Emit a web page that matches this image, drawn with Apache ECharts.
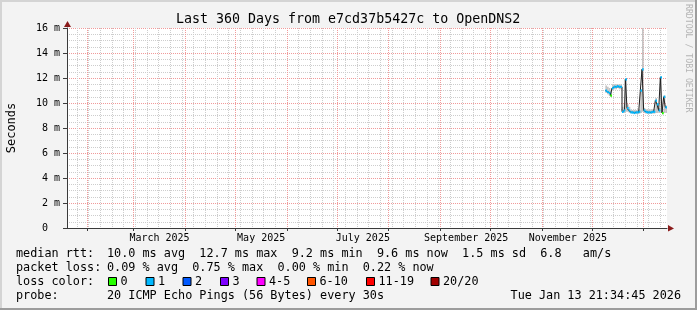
<!DOCTYPE html>
<html>
<head>
<meta charset="utf-8">
<script src="https://cdn.jsdelivr.net/npm/echarts@6/dist/echarts.min.js"></script>
<style>
html,body{margin:0;padding:0;background:#f3f3f3;}
#c{width:697px;height:310px;}
</style>
</head>
<body>
<div id="c"></div>
<script>
// ---------------- data ----------------
const titleText = 'Last 360 Days from e7cd37b5427c to OpenDNS2';
const axisFirstDay = '2025-01-20';           // first day shown on the x axis
const dayCount = 360;
const monthLabels    = ['March 2025', 'May 2025', 'July 2025', 'September 2025', 'November 2025'];
const monthLabelDays = ['2025-03-16', '2025-05-16', '2025-07-16', '2025-09-16', '2025-11-16'];
const yMax = 16;
const yStep = 2;

const dataFirstDay = '2025-12-09';           // first day with measurements
// median rtt per day (ms)
const medianRtt = [
  11.0, 10.9, 10.8, 10.6, 11.2, 11.3, 11.3, 11.35, 11.3, 11.3,
  9.3, 9.4, 11.9, 9.6, 9.4,
  9.25, 9.25, 9.2, 9.25, 9.25, 9.3,
  11.0, 12.7,
  9.4, 9.3, 9.25, 9.25, 9.25, 9.3, 9.3,
  10.2, 9.9, 9.4, 12.05, 9.2, 10.5, 9.65
];
// loss colour level per day (index into lossColors)
const lossLevel = [
  1, 1, 1, 0, 1, 1, 1, 1, 1, 1,
  1, 1, 1, 1, 1,
  1, 1, 1, 1, 1, 1,
  1, 1,
  1, 1, 1, 1, 1, 1, 1,
  1, 1, 1, 1, 0, 1, 1
];
// smoke (ping spread) per day (ms)
const smokeLow = [
  10.8, 10.7, 10.6, 10.5, 11.0, 11.1, 11.1, 11.2, 11.1, 11.1,
  9.2, 9.2, 9.3, 9.3, 9.2,
  9.2, 9.15, 9.15, 9.15, 9.15, 9.15,
  9.2, 9.3,
  9.2, 9.15, 9.15, 9.15, 9.15, 9.15, 9.15,
  9.2, 9.2, 9.2, 9.3, 9.1, 9.2, 9.2
];
const smokeHigh = [
  11.4, 11.3, 11.2, 11.0, 11.5, 11.5, 11.5, 11.5, 11.5, 11.5,
  9.7, 9.9, 12.0, 9.9, 9.7,
  9.45, 9.45, 9.45, 9.45, 9.45, 9.45,
  11.1, 16.0,
  9.6, 9.5, 9.5, 9.5, 9.5, 9.5, 9.5,
  10.4, 10.0, 9.6, 12.1, 9.4, 10.6, 9.8
];

const lossLabels = ['0', '1', '2', '3', '4-5', '6-10', '11-19', '20/20'];
const lossColors = ['#26ff00', '#00b8ff', '#0059ff', '#7e00ff', '#ff00ff', '#ff5500', '#ff0000', '#a10000'];

const statHeads = ['median rtt:', 'packet loss:', 'loss color:', 'probe:'];
const statBodies = [
  '10.0 ms avg  12.7 ms max  9.2 ms min  9.6 ms now  1.5 ms sd  6.8   am/s',
  '0.09 % avg  0.75 % max  0.00 % min  0.22 % now',
  '',
  '20 ICMP Echo Pings (56 Bytes) every 30s'
];
const stampText = 'Tue Jan 13 21:34:45 2026';
const watermark = 'RRDTOOL / TOBI OETIKER';

// ---------------- layout / style ----------------
const MONO = '"DejaVu Sans Mono", monospace';
const PLOT = {left: 67, top: 28, width: 600, height: 200};
const AXIS = '#3a3a3a';
const ARROW = '#8b1c1c';
const MGRID = '#f19a9a';
const GRID = '#cdcdcd';
const LOSS_HALF = 0.09;
const LEG_FONT = '11.8px ' + MONO;
const rowY = [254, 268, 282, 296];
const swatchX = [108, 145.5, 182.5, 220, 256.5, 307, 366, 430.5];

// ---------------- build ----------------
const DAY = 86400000;
const t0 = Date.parse(axisFirstDay + 'T00:00:00Z');
const cats = [];
const monthStarts = [], sundays = [];
for (let i = 0; i < dayCount; i++) {
  const d = new Date(t0 + i * DAY);
  cats.push(d.toISOString().slice(0, 10));
  if (d.getUTCDate() === 1) monthStarts.push(i);
  if (d.getUTCDay() === 0) sundays.push(i);
}
const labelPos = monthLabelDays.map(s => cats.indexOf(s) + 0.5);
const off = cats.indexOf(dataFirstDay);
function place(arr) {
  const out = new Array(dayCount).fill('-');
  arr.forEach((v, i) => { out[off + i] = v; });
  return out;
}

const barCommon = {type: 'bar', xAxisIndex: 0, barWidth: '100%', barGap: '-100%', barCategoryGap: 0, silent: true};

const graphics = [];
// frame shading
graphics.push({type: 'rect', shape: {x: 0, y: 0, width: 697, height: 2}, style: {fill: '#d4d4d4'}, silent: true});
graphics.push({type: 'rect', shape: {x: 0, y: 0, width: 2, height: 310}, style: {fill: '#d4d4d4'}, silent: true});
graphics.push({type: 'rect', shape: {x: 695, y: 0, width: 2, height: 310}, style: {fill: '#9c9c9c'}, silent: true});
graphics.push({type: 'rect', shape: {x: 0, y: 308, width: 697, height: 2}, style: {fill: '#9c9c9c'}, silent: true});
// watermark
graphics.push({type: 'text', x: 688, y: 4, rotation: -Math.PI / 2, silent: true,
  style: {text: watermark, font: '8.2px ' + MONO, fill: '#b4b4b4', align: 'left', verticalAlign: 'middle', textAlign: 'left', textVerticalAlign: 'middle'}});
// arrows
const px0 = PLOT.left, py0 = PLOT.top + PLOT.height, px1 = PLOT.left + PLOT.width;
graphics.push({type: 'polygon', silent: true, shape: {points: [[px1 + 1, py0 - 3], [px1 + 7, py0 + 0.5], [px1 + 1, py0 + 3.5]]}, style: {fill: ARROW}});
graphics.push({type: 'polygon', silent: true, shape: {points: [[px0 - 3, PLOT.top - 1], [px0 + 0.5, PLOT.top - 7], [px0 + 4, PLOT.top - 1]]}, style: {fill: ARROW}});
// legend rows
function txt(x, y, s, align) {
  return {type: 'text', x: x, y: y, silent: true,
    style: {text: s, font: LEG_FONT, fill: '#000', align: align || 'left', verticalAlign: 'middle',
            textAlign: align || 'left', textVerticalAlign: 'middle'}};
}
statHeads.forEach((h, i) => {
  graphics.push(txt(16, rowY[i], h));
  if (statBodies[i]) graphics.push(txt(107, rowY[i], statBodies[i]));
});
graphics.push(txt(681, rowY[3], stampText, 'right'));
lossLabels.forEach((lab, i) => {
  graphics.push({type: 'rect', silent: true, shape: {x: swatchX[i] + 0.5, y: rowY[2] - 4.5, width: 8, height: 8},
    style: {fill: lossColors[i], stroke: '#000', lineWidth: 1}});
  graphics.push(txt(swatchX[i] + 12.5, rowY[2], lab));
});

const option = {
  animation: false,
  backgroundColor: '#f3f3f3',
  title: {text: titleText, left: 176, top: 12, padding: 0,
    textStyle: {fontFamily: MONO, fontSize: 13.3, fontWeight: 'normal', color: '#000', lineHeight: 15}},
  grid: {left: PLOT.left, top: PLOT.top, width: PLOT.width, height: PLOT.height, show: true,
    backgroundColor: '#ffffff', borderWidth: 0, containLabel: false, outerBoundsMode: 'none'},
  xAxis: [
    // data axis: one category per day (hidden)
    {type: 'category', data: cats, boundaryGap: true, position: 'bottom', show: false},
    // weekly minor grid
    {type: 'value', min: 0, max: dayCount, position: 'bottom', z: 0,
      axisLine: {show: false}, axisLabel: {show: false},
      axisTick: {show: false, customValues: sundays},
      splitLine: {show: true, lineStyle: {color: GRID, width: 1, type: [1, 1]}}},
    // month grid, ticks and labels
    {type: 'value', min: 0, max: dayCount, position: 'bottom', z: 1,
      axisLine: {show: true, lineStyle: {color: AXIS, width: 1}},
      axisTick: {show: true, customValues: monthStarts, length: 3, lineStyle: {color: AXIS}},
      axisLabel: {show: true, customValues: labelPos,
        formatter: v => { const k = labelPos.findIndex(p => Math.abs(p - v) < 0.01); return k >= 0 ? monthLabels[k] : ''; },
        fontFamily: MONO, fontSize: 10, color: '#000', margin: 5},
      splitLine: {show: true, lineStyle: {color: MGRID, width: 1, type: [1, 1]}}}
  ],
  yAxis: {type: 'value', min: 0, max: yMax, interval: yStep,
    name: 'Seconds', nameLocation: 'middle', nameGap: 49, nameRotate: 90,
    nameTextStyle: {fontFamily: MONO, fontSize: 12, color: '#000'},
    axisLine: {show: true, lineStyle: {color: AXIS, width: 1}},
    axisTick: {show: true, length: 4, lineStyle: {color: AXIS}},
    axisLabel: {fontFamily: MONO, fontSize: 10, color: '#000', margin: 7,
      formatter: v => v === 0 ? '0  ' : v + ' m'},
    splitLine: {show: true, lineStyle: {color: MGRID, width: 1, type: [1, 1]}},
    minorTick: {show: false, splitNumber: 4},
    minorSplitLine: {show: true, lineStyle: {color: GRID, width: 1, type: [1, 1]}}
  },
  series: [
    Object.assign({}, barCommon, {name: 'smokeBase', stack: 'smoke', z: 2,
      data: place(smokeLow), itemStyle: {color: 'rgba(0,0,0,0)'}}),
    Object.assign({}, barCommon, {name: 'smoke', stack: 'smoke', z: 2,
      data: place(smokeLow.map((v, i) => +(smokeHigh[i] - v).toFixed(3))), itemStyle: {color: '#c4c4c4'}}),
    {type: 'line', name: 'median', xAxisIndex: 0, z: 3, silent: true, step: 'middle', symbol: 'none',
      data: place(medianRtt), lineStyle: {color: '#202020', width: 1}},
    Object.assign({}, barCommon, {name: 'lossBase', stack: 'loss', z: 4,
      data: place(medianRtt.map(v => +(v - LOSS_HALF).toFixed(3))), itemStyle: {color: 'rgba(0,0,0,0)'}}),
    Object.assign({}, barCommon, {name: 'loss', stack: 'loss', z: 4,
      data: place(medianRtt.map((v, i) => ({value: 2 * LOSS_HALF, itemStyle: {color: lossColors[lossLevel[i]]}})))})
  ],
  graphic: graphics
};

const chart = echarts.init(document.getElementById('c'), null, {renderer: 'canvas'});
chart.setOption(option);
</script>
</body>
</html>
